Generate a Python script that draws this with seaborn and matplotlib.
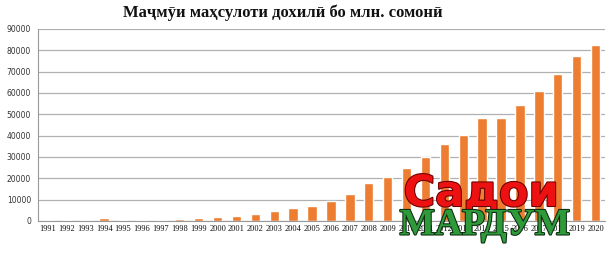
import matplotlib
matplotlib.use("Agg")
import matplotlib.pyplot as plt
import matplotlib.patheffects as pe
import seaborn as sns
import pandas as pd

years = [str(y) for y in range(1991, 2021)]
values = [500, 500, 500, 1500, 500, 500, 600, 1000, 1300, 1700,
          2500, 3300, 4700, 6200, 7200, 9300, 12800, 17700, 20600, 24700,
          30100, 36200, 40400, 48400, 48400, 54400, 61000, 68900, 77200, 82500]
title = "Маҷмӯи маҳсулоти дохилӣ бо млн. сомонӣ"
yticks = list(range(0, 90001, 10000))

df = pd.DataFrame({"year": years, "value": values})

sns.set_theme(style="white")
fig = plt.figure(figsize=(6.1, 2.6), dpi=100)
ax = fig.add_axes([38/610, 1-221/260, 567/610, 192/260])
sns.barplot(data=df, x="year", y="value", color="#ED7D31", saturation=1,
            width=0.5, ax=ax)
ax.set_ylim(0, 90000)
ax.set_xlim(-0.5, len(years)-0.5)
ax.set_yticks(yticks)
ax.set_yticklabels([str(t) for t in yticks], fontsize=5.5, family="DejaVu Sans", color="#333333")
ax.set_xticks(range(len(years)))
ax.set_xticklabels(years, fontsize=6, family="Liberation Serif", color="#111111")
ax.yaxis.grid(True, color="#b0b0b0", linewidth=0.9)
ax.set_axisbelow(True)
ax.set_xlabel("")
ax.set_ylabel("")
for s in ["top", "right"]:
    ax.spines[s].set_visible(False)
ax.spines["left"].set_color("#999999")
ax.spines["bottom"].set_color("#999999")
ax.spines["left"].set_linewidth(0.8)
ax.spines["bottom"].set_linewidth(0.8)
ax.tick_params(axis="y", length=3, width=0.8, color="#999999", pad=2)
ax.tick_params(axis="x", length=3, width=0.8, color="#999999", pad=3)
ax.set_xticks([i + 0.5 for i in range(len(years) - 1)], minor=True)
ax.tick_params(axis="x", which="minor", length=3, width=0.8, color="#999999")
ax.tick_params(axis="x", which="major", length=0)

fig.text(283/610, 1-13/260, title, ha="center", va="center", fontsize=12,
         fontweight="bold", family="Liberation Serif", color="#111111")

fig.text(481/610, 1-194/260, "Садои", ha="center", va="center", fontsize=31,
         fontweight="bold", family="DejaVu Sans", color="#ee1111",
         path_effects=[pe.withStroke(linewidth=1.5, foreground="#660000")])
fig.text(485/610, 1-225/260, "МАРДУМ", ha="center", va="center", fontsize=27,
         fontweight="bold", family="Liberation Serif", color="#2e9a3a",
         path_effects=[pe.withStroke(linewidth=1.5, foreground="#0b2a10")])

fig.savefig("out.png", dpi=100)
